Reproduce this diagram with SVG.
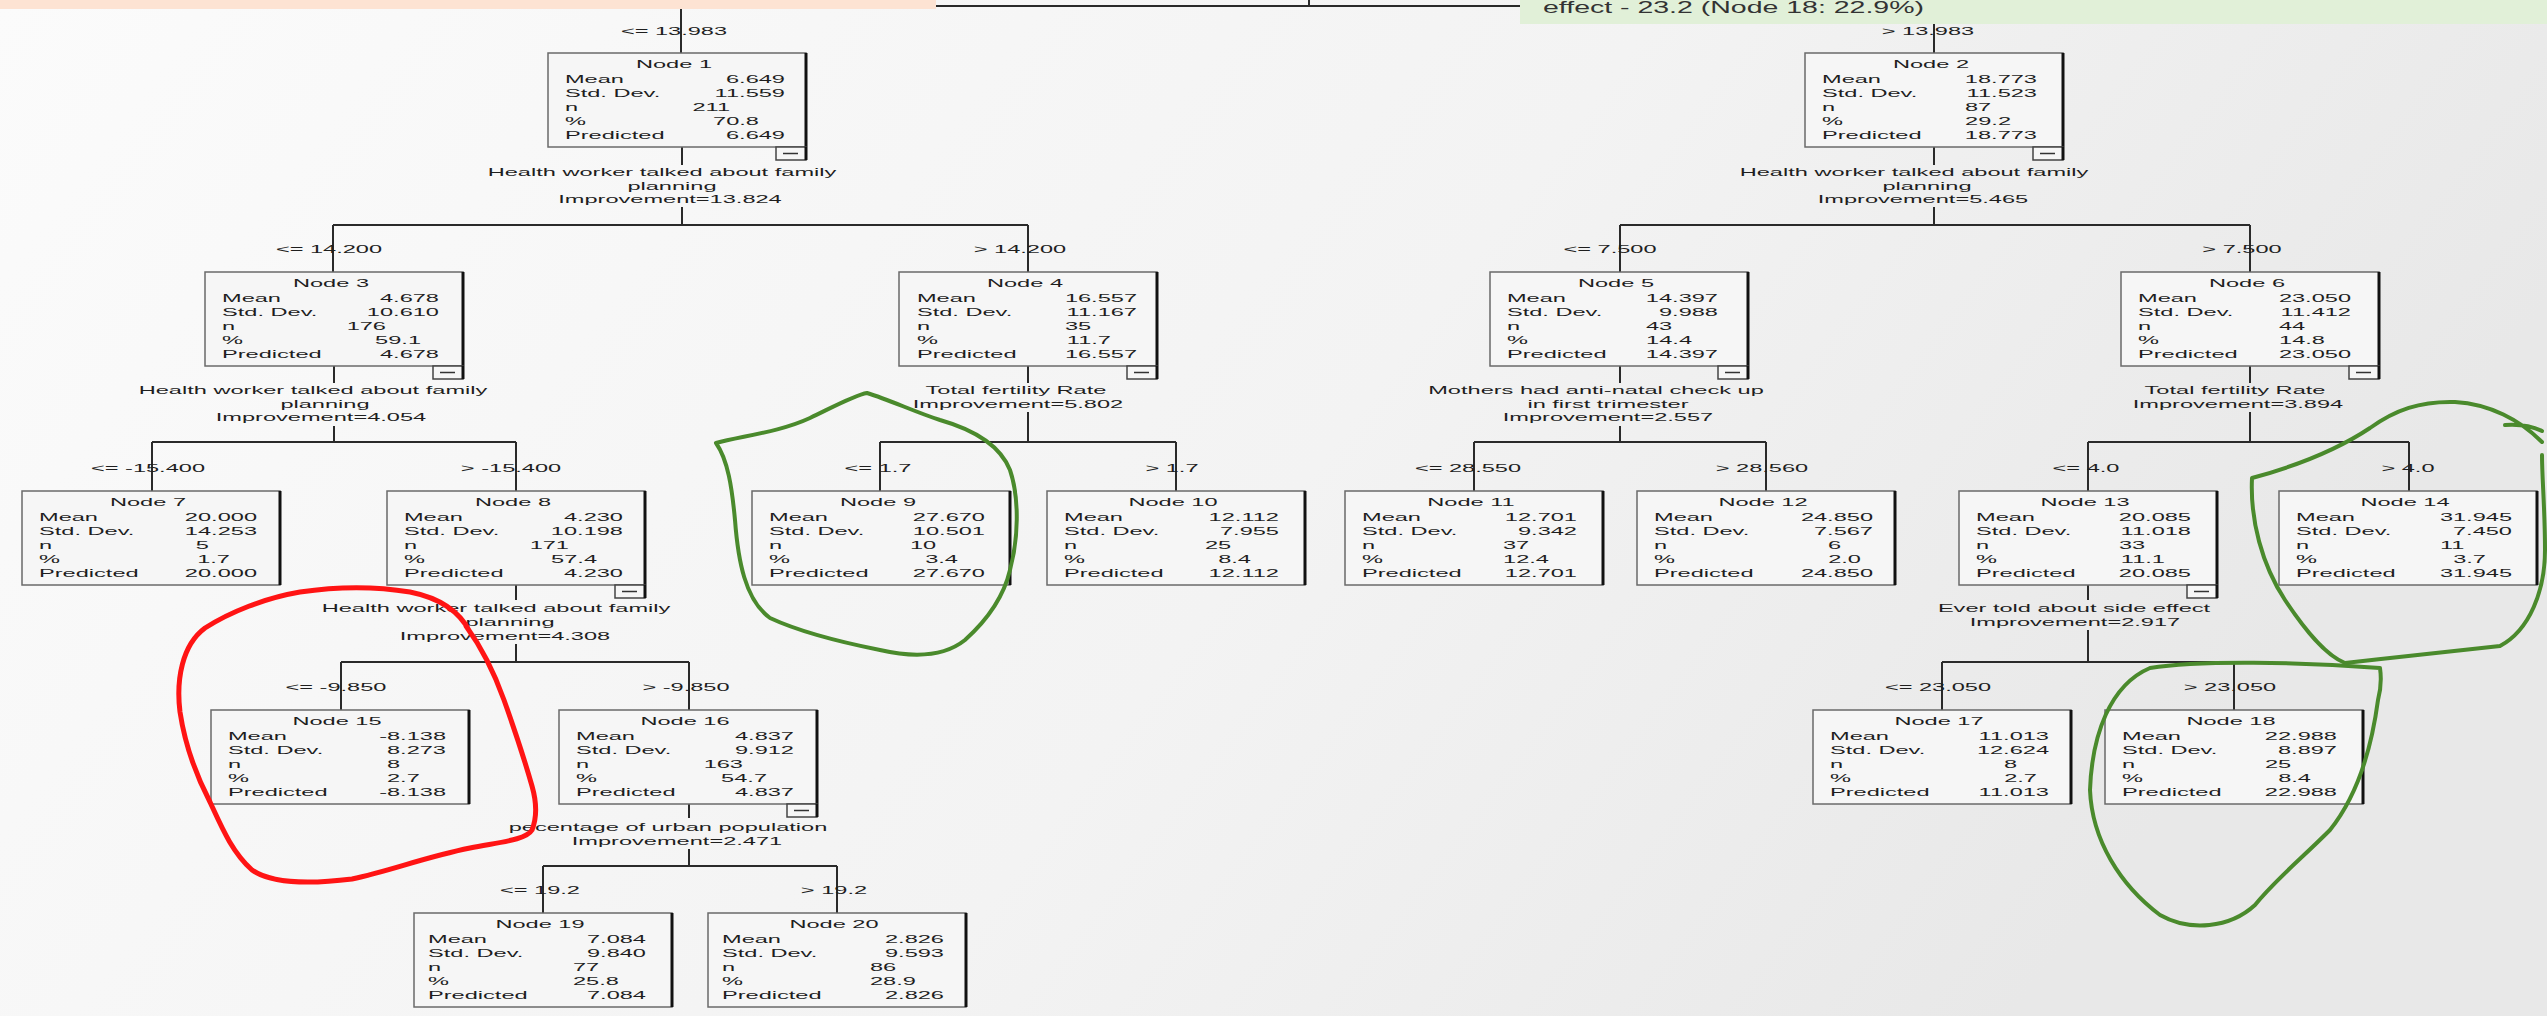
<svg xmlns="http://www.w3.org/2000/svg" xmlns:xlink="http://www.w3.org/1999/xlink" width="2547" height="1016" viewBox="0 0 2547 1016">
<defs>
<style>
.t{font-family:"Liberation Sans",Arial,sans-serif;font-size:11.8px;fill:#1e1e1e}
.m{text-anchor:middle}
.e{text-anchor:end}
.bx{fill:#f6f6f6;stroke:#6a6a6a;stroke-width:1.5}
.sh{stroke:#111;stroke-width:3}
.mb{fill:#f6f6f6;stroke:#444;stroke-width:1.5}
.ln{stroke:#2a2a2a;stroke-width:2;fill:none}
.red{stroke:#ff1414;stroke-width:5;fill:none;stroke-linecap:round;stroke-linejoin:round}
.grn{stroke:#4a8a2c;stroke-width:4;fill:none;stroke-linecap:round;stroke-linejoin:round}
</style>
<linearGradient id="bg" x1="0" y1="0" x2="1" y2="0.3">
<stop offset="0" stop-color="#fbfbfb"/>
<stop offset="0.6" stop-color="#f3f3f3"/>
<stop offset="1" stop-color="#e8e8e8"/>
</linearGradient>
<g id="box"><rect class="bx" x="0" y="0" width="258" height="94"/><line class="sh" x1="258" y1="0" x2="258" y2="94"/></g>
<g id="minus"><rect class="mb" x="-30" y="0" width="30" height="13"/><line x1="-23" y1="6.5" x2="-8" y2="6.5" stroke="#333" stroke-width="1.5"/><line class="sh" x1="0" y1="0" x2="0" y2="13"/></g>
</defs>
<rect x="0" y="0" width="2547" height="1016" fill="url(#bg)"/>

<g id="connectors">
<path class="ln" d="M681 6H1934M1309 0V6M681 6V53M1934 6V53"/>
<path class="ln" d="M682 147V165M682 207V225M333 225H1028M333 225V272M1028 225V272"/>
<path class="ln" d="M1934 147V165M1934 207V225M1620 225H2250M1620 225V272M2250 225V272"/>
<path class="ln" d="M334 366V383M334 426V442M152 442H516M152 442V491M516 442V491"/>
<path class="ln" d="M1028 366V383M1028 412V442M880 442H1176M880 442V491M1176 442V491"/>
<path class="ln" d="M1620 366V383M1620 426V442M1474 442H1766M1474 442V491M1766 442V491"/>
<path class="ln" d="M2250 366V383M2250 412V442M2088 442H2409M2088 442V491M2409 442V491"/>
<path class="ln" d="M516 585V600M516 644V662M341 662H689M341 662V710M689 662V710"/>
<path class="ln" d="M2088 585V600M2088 630V662M1942 662H2234M1942 662V710M2234 662V710"/>
<path class="ln" d="M689 804V818M689 849V866M543 866H837M543 866V913M837 866V913"/>
<g class="t m" transform="scale(2,1)">
<text x="337" y="35">&lt;= 13.983</text>
<text x="964" y="35">&gt; 13.983</text>
<text x="164.5" y="253">&lt;= 14.200</text>
<text x="510" y="253">&gt; 14.200</text>
<text x="805" y="253">&lt;= 7.500</text>
<text x="1121" y="253">&gt; 7.500</text>
<text x="74" y="472">&lt;= -15.400</text>
<text x="255.5" y="472">&gt; -15.400</text>
<text x="439" y="472">&lt;= 1.7</text>
<text x="586" y="472">&gt; 1.7</text>
<text x="734" y="472">&lt;= 28.550</text>
<text x="881" y="472">&gt; 28.560</text>
<text x="1043" y="472">&lt;= 4.0</text>
<text x="1204" y="472">&gt; 4.0</text>
<text x="168" y="691">&lt;= -9.850</text>
<text x="343" y="691">&gt; -9.850</text>
<text x="969" y="691">&lt;= 23.050</text>
<text x="1115" y="691">&gt; 23.050</text>
<text x="270" y="894">&lt;= 19.2</text>
<text x="417" y="894">&gt; 19.2</text>
<text x="331" y="176">Health worker talked about family</text>
<text x="336" y="190">planning</text>
<text x="335" y="203">Improvement=13.824</text>
<text x="957" y="176">Health worker talked about family</text>
<text x="963.5" y="190">planning</text>
<text x="961.5" y="203">Improvement=5.465</text>
<text x="156.5" y="394">Health worker talked about family</text>
<text x="162.5" y="408">planning</text>
<text x="160.5" y="421">Improvement=4.054</text>
<text x="508" y="394">Total fertility Rate</text>
<text x="509" y="408">Improvement=5.802</text>
<text x="798" y="394">Mothers had anti-natal check up</text>
<text x="804" y="408">in first trimester</text>
<text x="804" y="421">Improvement=2.557</text>
<text x="1117.5" y="394">Total fertility Rate</text>
<text x="1119" y="408">Improvement=3.894</text>
<text x="248" y="612">Health worker talked about family</text>
<text x="255" y="626">planning</text>
<text x="252.5" y="640">Improvement=4.308</text>
<text x="1037" y="612">Ever told about side effect</text>
<text x="1037.5" y="626">Improvement=2.917</text>
<text x="334" y="831">pecentage of urban population</text>
<text x="338.5" y="845">Improvement=2.471</text>
</g>
</g>

<g id="header">
<rect x="0" y="0" width="936" height="9" fill="#fde3d3"/>
<rect x="1520" y="0" width="1027" height="24" fill="#e1f0d8"/>
<text x="1543" y="13" font-family="Liberation Sans, Arial, sans-serif" font-size="16" fill="#333" textLength="381" lengthAdjust="spacingAndGlyphs">effect - 23.2 (Node 18: 22.9%)</text>
</g>

<g id="node1"><use xlink:href="#box" x="548" y="53"/><use xlink:href="#minus" x="806" y="147"/>
<g class="t" transform="scale(2,1)"><text class="m" x="337" y="68">Node 1</text>
<text x="282.5" y="83">Mean</text><text x="282.5" y="97.5">Std. Dev.</text><text x="282.5" y="111.5">n</text><text x="282.5" y="125.5">%</text><text x="282.5" y="139.5">Predicted</text>
<text class="e" x="392.5" y="83">6.649</text><text class="e" x="392.5" y="97.5">11.559</text><text class="e" x="365" y="111.5">211</text><text class="e" x="379.5" y="125.5">70.8</text><text class="e" x="392.5" y="139.5">6.649</text></g></g>

<g id="node2"><use xlink:href="#box" x="1805" y="53"/><use xlink:href="#minus" x="2063" y="147"/>
<g class="t" transform="scale(2,1)"><text class="m" x="965.5" y="68">Node 2</text>
<text x="911" y="83">Mean</text><text x="911" y="97.5">Std. Dev.</text><text x="911" y="111.5">n</text><text x="911" y="125.5">%</text><text x="911" y="139.5">Predicted</text>
<text class="e" x="1018.5" y="83">18.773</text><text class="e" x="1018.5" y="97.5">11.523</text><text x="982.5" y="111.5">87</text><text class="e" x="1005.5" y="125.5">29.2</text><text class="e" x="1018.5" y="139.5">18.773</text></g></g>

<g id="node3"><use xlink:href="#box" x="205" y="272"/><use xlink:href="#minus" x="463" y="366"/>
<g class="t" transform="scale(2,1)"><text class="m" x="165.5" y="287">Node 3</text>
<text x="111" y="302">Mean</text><text x="111" y="316.5">Std. Dev.</text><text x="111" y="330.5">n</text><text x="111" y="344.5">%</text><text x="111" y="358.5">Predicted</text>
<text class="e" x="219.5" y="302">4.678</text><text class="e" x="219.5" y="316.5">10.610</text><text class="e" x="193" y="330.5">176</text><text class="e" x="210.5" y="344.5">59.1</text><text class="e" x="219.5" y="358.5">4.678</text></g></g>

<g id="node4"><use xlink:href="#box" x="899" y="272"/><use xlink:href="#minus" x="1157" y="366"/>
<g class="t" transform="scale(2,1)"><text class="m" x="512.5" y="287">Node 4</text>
<text x="458.5" y="302">Mean</text><text x="458.5" y="316.5">Std. Dev.</text><text x="458.5" y="330.5">n</text><text x="458.5" y="344.5">%</text><text x="458.5" y="358.5">Predicted</text>
<text class="e" x="568.5" y="302">16.557</text><text class="e" x="568.5" y="316.5">11.167</text><text x="532.5" y="330.5">35</text><text class="e" x="555.5" y="344.5">11.7</text><text class="e" x="568.5" y="358.5">16.557</text></g></g>

<g id="node5"><use xlink:href="#box" x="1490" y="272"/><use xlink:href="#minus" x="1748" y="366"/>
<g class="t" transform="scale(2,1)"><text class="m" x="808" y="287">Node 5</text>
<text x="753.5" y="302">Mean</text><text x="753.5" y="316.5">Std. Dev.</text><text x="753.5" y="330.5">n</text><text x="753.5" y="344.5">%</text><text x="753.5" y="358.5">Predicted</text>
<text class="e" x="859" y="302">14.397</text><text class="e" x="859" y="316.5">9.988</text><text x="823" y="330.5">43</text><text class="e" x="846" y="344.5">14.4</text><text class="e" x="859" y="358.5">14.397</text></g></g>

<g id="node6"><use xlink:href="#box" x="2121" y="272"/><use xlink:href="#minus" x="2379" y="366"/>
<g class="t" transform="scale(2,1)"><text class="m" x="1123.5" y="287">Node 6</text>
<text x="1069" y="302">Mean</text><text x="1069" y="316.5">Std. Dev.</text><text x="1069" y="330.5">n</text><text x="1069" y="344.5">%</text><text x="1069" y="358.5">Predicted</text>
<text class="e" x="1175.5" y="302">23.050</text><text class="e" x="1175.5" y="316.5">11.412</text><text x="1139.5" y="330.5">44</text><text class="e" x="1162.5" y="344.5">14.8</text><text class="e" x="1175.5" y="358.5">23.050</text></g></g>

<g id="node7"><use xlink:href="#box" x="22" y="491"/>
<g class="t" transform="scale(2,1)"><text class="m" x="74" y="506">Node 7</text>
<text x="19.5" y="521">Mean</text><text x="19.5" y="535.5">Std. Dev.</text><text x="19.5" y="549.5">n</text><text x="19.5" y="563.5">%</text><text x="19.5" y="577.5">Predicted</text>
<text class="e" x="128.5" y="521">20.000</text><text class="e" x="128.5" y="535.5">14.253</text><text class="e" x="104.5" y="549.5">5</text><text class="e" x="115" y="563.5">1.7</text><text class="e" x="128.5" y="577.5">20.000</text></g></g>

<g id="node8"><use xlink:href="#box" x="387" y="491"/><use xlink:href="#minus" x="645" y="585"/>
<g class="t" transform="scale(2,1)"><text class="m" x="256.5" y="506">Node 8</text>
<text x="202" y="521">Mean</text><text x="202" y="535.5">Std. Dev.</text><text x="202" y="549.5">n</text><text x="202" y="563.5">%</text><text x="202" y="577.5">Predicted</text>
<text class="e" x="311.5" y="521">4.230</text><text class="e" x="311.5" y="535.5">10.198</text><text class="e" x="284.5" y="549.5">171</text><text class="e" x="298.5" y="563.5">57.4</text><text class="e" x="311.5" y="577.5">4.230</text></g></g>

<g id="node9"><use xlink:href="#box" x="752" y="491"/>
<g class="t" transform="scale(2,1)"><text class="m" x="439" y="506">Node 9</text>
<text x="384.5" y="521">Mean</text><text x="384.5" y="535.5">Std. Dev.</text><text x="384.5" y="549.5">n</text><text x="384.5" y="563.5">%</text><text x="384.5" y="577.5">Predicted</text>
<text class="e" x="492.5" y="521">27.670</text><text class="e" x="492.5" y="535.5">10.501</text><text x="455" y="549.5">10</text><text class="e" x="479" y="563.5">3.4</text><text class="e" x="492.5" y="577.5">27.670</text></g></g>

<g id="node10"><use xlink:href="#box" x="1047" y="491"/>
<g class="t" transform="scale(2,1)"><text class="m" x="586.5" y="506">Node 10</text>
<text x="532" y="521">Mean</text><text x="532" y="535.5">Std. Dev.</text><text x="532" y="549.5">n</text><text x="532" y="563.5">%</text><text x="532" y="577.5">Predicted</text>
<text class="e" x="639.5" y="521">12.112</text><text class="e" x="639.5" y="535.5">7.955</text><text x="602.5" y="549.5">25</text><text class="e" x="625.5" y="563.5">8.4</text><text class="e" x="639.5" y="577.5">12.112</text></g></g>

<g id="node11"><use xlink:href="#box" x="1345" y="491"/>
<g class="t" transform="scale(2,1)"><text class="m" x="735.5" y="506">Node 11</text>
<text x="681" y="521">Mean</text><text x="681" y="535.5">Std. Dev.</text><text x="681" y="549.5">n</text><text x="681" y="563.5">%</text><text x="681" y="577.5">Predicted</text>
<text class="e" x="788.5" y="521">12.701</text><text class="e" x="788.5" y="535.5">9.342</text><text x="751.5" y="549.5">37</text><text class="e" x="774.5" y="563.5">12.4</text><text class="e" x="788.5" y="577.5">12.701</text></g></g>

<g id="node12"><use xlink:href="#box" x="1637" y="491"/>
<g class="t" transform="scale(2,1)"><text class="m" x="881.5" y="506">Node 12</text>
<text x="827" y="521">Mean</text><text x="827" y="535.5">Std. Dev.</text><text x="827" y="549.5">n</text><text x="827" y="563.5">%</text><text x="827" y="577.5">Predicted</text>
<text class="e" x="936.5" y="521">24.850</text><text class="e" x="936.5" y="535.5">7.567</text><text class="e" x="920.5" y="549.5">6</text><text class="e" x="930.5" y="563.5">2.0</text><text class="e" x="936.5" y="577.5">24.850</text></g></g>

<g id="node13"><use xlink:href="#box" x="1959" y="491"/><use xlink:href="#minus" x="2217" y="585"/>
<g class="t" transform="scale(2,1)"><text class="m" x="1042.5" y="506">Node 13</text>
<text x="988" y="521">Mean</text><text x="988" y="535.5">Std. Dev.</text><text x="988" y="549.5">n</text><text x="988" y="563.5">%</text><text x="988" y="577.5">Predicted</text>
<text class="e" x="1095.5" y="521">20.085</text><text class="e" x="1095.5" y="535.5">11.018</text><text x="1059.5" y="549.5">33</text><text class="e" x="1082.5" y="563.5">11.1</text><text class="e" x="1095.5" y="577.5">20.085</text></g></g>

<g id="node14"><use xlink:href="#box" x="2279" y="491"/>
<g class="t" transform="scale(2,1)"><text class="m" x="1202.5" y="506">Node 14</text>
<text x="1148" y="521">Mean</text><text x="1148" y="535.5">Std. Dev.</text><text x="1148" y="549.5">n</text><text x="1148" y="563.5">%</text><text x="1148" y="577.5">Predicted</text>
<text class="e" x="1256" y="521">31.945</text><text class="e" x="1256" y="535.5">7.450</text><text x="1220" y="549.5">11</text><text class="e" x="1243" y="563.5">3.7</text><text class="e" x="1256" y="577.5">31.945</text></g></g>

<g id="node15"><use xlink:href="#box" x="211" y="710"/>
<g class="t" transform="scale(2,1)"><text class="m" x="168.5" y="725">Node 15</text>
<text x="114" y="740">Mean</text><text x="114" y="754.5">Std. Dev.</text><text x="114" y="768.5">n</text><text x="114" y="782.5">%</text><text x="114" y="796.5">Predicted</text>
<text class="e" x="223" y="740">-8.138</text><text class="e" x="223" y="754.5">8.273</text><text x="193.5" y="768.5">8</text><text x="193.5" y="782.5">2.7</text><text class="e" x="223" y="796.5">-8.138</text></g></g>

<g id="node16"><use xlink:href="#box" x="559" y="710"/><use xlink:href="#minus" x="817" y="804"/>
<g class="t" transform="scale(2,1)"><text class="m" x="342.5" y="725">Node 16</text>
<text x="288" y="740">Mean</text><text x="288" y="754.5">Std. Dev.</text><text x="288" y="768.5">n</text><text x="288" y="782.5">%</text><text x="288" y="796.5">Predicted</text>
<text class="e" x="397" y="740">4.837</text><text class="e" x="397" y="754.5">9.912</text><text class="e" x="371.5" y="768.5">163</text><text class="e" x="383.5" y="782.5">54.7</text><text class="e" x="397" y="796.5">4.837</text></g></g>

<g id="node17"><use xlink:href="#box" x="1813" y="710"/>
<g class="t" transform="scale(2,1)"><text class="m" x="969.5" y="725">Node 17</text>
<text x="915" y="740">Mean</text><text x="915" y="754.5">Std. Dev.</text><text x="915" y="768.5">n</text><text x="915" y="782.5">%</text><text x="915" y="796.5">Predicted</text>
<text class="e" x="1024.5" y="740">11.013</text><text class="e" x="1024.5" y="754.5">12.624</text><text class="e" x="1008.5" y="768.5">8</text><text class="e" x="1018.5" y="782.5">2.7</text><text class="e" x="1024.5" y="796.5">11.013</text></g></g>

<g id="node18"><use xlink:href="#box" x="2105" y="710"/>
<g class="t" transform="scale(2,1)"><text class="m" x="1115.5" y="725">Node 18</text>
<text x="1061" y="740">Mean</text><text x="1061" y="754.5">Std. Dev.</text><text x="1061" y="768.5">n</text><text x="1061" y="782.5">%</text><text x="1061" y="796.5">Predicted</text>
<text class="e" x="1168.5" y="740">22.988</text><text class="e" x="1168.5" y="754.5">8.897</text><text x="1132.5" y="768.5">25</text><text class="e" x="1155.5" y="782.5">8.4</text><text class="e" x="1168.5" y="796.5">22.988</text></g></g>

<g id="node19"><use xlink:href="#box" x="414" y="913"/>
<g class="t" transform="scale(2,1)"><text class="m" x="270" y="928">Node 19</text>
<text x="214" y="943">Mean</text><text x="214" y="957.5">Std. Dev.</text><text x="214" y="971.5">n</text><text x="214" y="985.5">%</text><text x="214" y="999.5">Predicted</text>
<text class="e" x="323" y="943">7.084</text><text class="e" x="323" y="957.5">9.840</text><text x="286.5" y="971.5">77</text><text x="286.5" y="985.5">25.8</text><text class="e" x="323" y="999.5">7.084</text></g></g>

<g id="node20"><use xlink:href="#box" x="708" y="913"/>
<g class="t" transform="scale(2,1)"><text class="m" x="417" y="928">Node 20</text>
<text x="361" y="943">Mean</text><text x="361" y="957.5">Std. Dev.</text><text x="361" y="971.5">n</text><text x="361" y="985.5">%</text><text x="361" y="999.5">Predicted</text>
<text class="e" x="472" y="943">2.826</text><text class="e" x="472" y="957.5">9.593</text><text x="435" y="971.5">86</text><text x="435" y="985.5">28.9</text><text class="e" x="472" y="999.5">2.826</text></g></g>

<g id="annotations">
<path class="red" d="M470 632C460 612 440 598 410 592C380 587 340 586 300 592C265 598 230 612 205 628C182 645 176 680 180 712C185 745 196 775 210 802C222 828 232 852 252 870C272 884 312 884 352 879C390 871 425 857 470 848C500 842 526 840 532 830C538 815 536 800 532 786C524 758 514 728 504 700C494 672 482 648 466 626"/>
<path class="grn" d="M716 443C742 436 780 432 810 418C835 406 855 395 867 393C890 400 915 412 940 420C975 430 1000 445 1010 470C1020 500 1018 540 1010 570C1003 600 985 622 965 640C945 656 915 658 880 650C840 642 800 632 770 618C745 600 738 560 735 520C732 488 728 460 716 443"/>
<path class="grn" d="M2505 425C2520 424 2532 426 2542 431M2542 442C2520 420 2490 404 2455 402C2420 401 2395 410 2370 428C2340 448 2300 465 2252 478C2250 520 2262 565 2285 600C2305 630 2325 655 2345 663C2400 657 2460 650 2500 646C2530 630 2545 590 2545 550C2545 510 2542 478 2542 455"/>
<path class="grn" d="M2380 668C2300 662 2200 660 2150 668C2110 685 2092 735 2090 790C2092 840 2120 885 2160 915C2190 932 2230 928 2255 905C2275 880 2300 860 2330 830C2358 795 2372 745 2378 700C2382 685 2381 675 2380 668"/>
</g>
</svg>
